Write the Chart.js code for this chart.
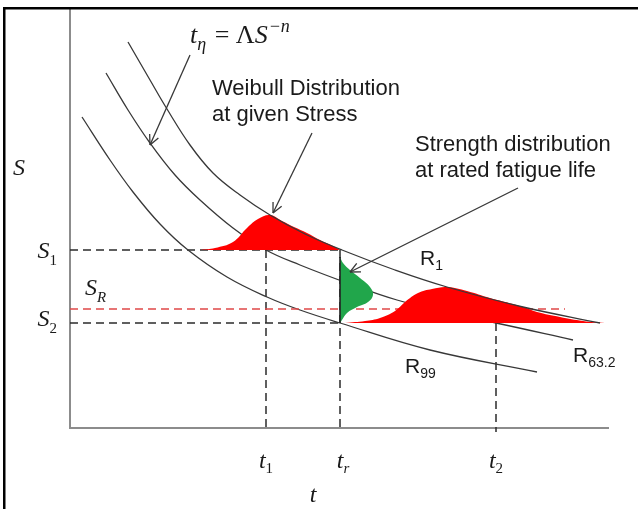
<!DOCTYPE html>
<html>
<head>
<meta charset="utf-8">
<script src="https://cdn.jsdelivr.net/npm/chart.js@4.4.1/dist/chart.umd.min.js"></script>
<style>
  html, body { margin: 0; padding: 0; background: #fff; }
  canvas { display: block; }
</style>
</head>
<body>
<canvas id="chart" width="638" height="509"></canvas>
<script>
// stress levels and times (chart units, schematic)
const S1 = 178, SR = 119, S2 = 105;
const t1 = 196, tr = 270, t2 = 426;

// S-N curves t = A*S^-n for three reliability levels
const curveR1 = [[58,386],[80,348],[97,319],[120,283],[143,255],[170,233],[200,213],[235,194],[272,178],[325,158],[377,141],[453,121],[530,105]];
const curveR632 = [[36,355],[58,318],[80,285],[105,253],[130,228],[163,200],[196,178],[230,163],[280,144],[327,128],[380,114],[426,105],[503,88]];
const curveR99 = [[12,311],[40,268],[63,236],[90,204],[118,178],[157,151],[197,131],[230,118],[270,105],[360,78],[467,56]];

// distributions
const weibullS1 = [[130,178],[145,180],[163,186],[177,200],[188,209],[200,213],[212,207],[224,201],[237,195],[250,188],[263,182],[270,178]];
const weibullS2 = [[275,105],[295,107],[310,110],[325,117],[335,126],[348,135],[362,139],[377,141],[397,137],[420,130],[443,124],[453,121],[467,116],[490,111],[513,107],[535,105]];
const strengthTr = [[270,171],[273,165],[280,158],[290,150],[300,141],[303,133],[298,126],[287,121],[277,115],[272,108],[270,105]];

// arrows: from -> to
const arrowFormula = [[120,373],[80,283]];
const arrowWeibull = [[242,295],[203,215]];
const arrowStrength = [[448,240],[280,156]];

const pts = arr => arr.map(p => ({x: p[0], y: p[1]}));

function line(data, color, width, extra) {
  return Object.assign({
    data: pts(data), borderColor: color, borderWidth: width,
    showLine: true, pointRadius: 0, fill: false, tension: 0
  }, extra || {});
}

const dark = '#383838';
const dash = [8, 5];

const datasets = [
  // first = drawn on top
  line(arrowFormula, dark, 1.3, {arrow: true}),
  line(arrowWeibull, dark, 1.3, {arrow: true}),
  line(arrowStrength, dark, 1.3, {arrow: true}),
  line(curveR1, dark, 1.3, {tension: 0.4}),
  line([[tr, 171], [tr, S2]], '#222', 1.6),
  line(strengthTr, 'rgba(0,0,0,0)', 0, {fill: 'shape', backgroundColor: '#21a64b', tension: 0.4}),
  line(weibullS1, 'rgba(0,0,0,0)', 0, {fill: 'shape', backgroundColor: '#ff0000', tension: 0.4}),
  line(weibullS2, 'rgba(0,0,0,0)', 0, {fill: 'shape', backgroundColor: '#ff0000', tension: 0.4}),
  line([[0, SR], [495, SR]], '#e04848', 1.3, {borderDash: dash}),
  line(curveR632, dark, 1.3, {tension: 0.4}),
  line(curveR99, dark, 1.3, {tension: 0.4}),
  line([[0, S1], [270, S1]], '#2b2b2b', 1.5, {borderDash: dash}),
  line([[0, S2], [270, S2]], '#2b2b2b', 1.5, {borderDash: dash}),
  line([[t1, S1], [t1, -4]], '#2b2b2b', 1.5, {borderDash: dash, clip: false}),
  line([[tr, S1], [tr, -4]], '#2b2b2b', 1.5, {borderDash: dash, clip: false}),
  line([[t2, S2], [t2, -4]], '#2b2b2b', 1.5, {borderDash: dash, clip: false})
];

const serif = 'italic 24px "Liberation Serif"';
const serifBig = 'italic 26px "Liberation Serif"';
const serifUp = '26px "Liberation Serif"';
const small = '15px "Liberation Serif"';
const smallIt = 'italic 15px "Liberation Serif"';
const smallBig = 'italic 18px "Liberation Serif"';
const sans = '22px "Liberation Sans"';
const sansR = '21px "Liberation Sans"';
const sansSub = '14px "Liberation Sans"';

function drawParts(ctx, x, y, parts, align) {
  let w = 0;
  parts.forEach(p => { ctx.font = p.font; w += ctx.measureText(p.text).width + (p.gap || 0); });
  let cx = align === 'center' ? x - w / 2 : align === 'right' ? x - w : x;
  parts.forEach(p => {
    ctx.font = p.font;
    ctx.fillText(p.text, cx, y + (p.dy || 0));
    cx += ctx.measureText(p.text).width + (p.gap || 0);
  });
}

const annotations = {
  id: 'annotations',
  afterDatasetsDraw(chart) {
    const ctx = chart.ctx;
    const px = v => chart.scales.x.getPixelForValue(v);
    const py = v => chart.scales.y.getPixelForValue(v);
    ctx.save();

    // arrow heads
    chart.data.datasets.forEach((ds, i) => {
      if (!ds.arrow) return;
      const el = chart.getDatasetMeta(i).data;
      const a = el[0], b = el[el.length - 1];
      const ang = Math.atan2(b.y - a.y, b.x - a.x);
      ctx.strokeStyle = ds.borderColor;
      ctx.lineWidth = ds.borderWidth;
      ctx.beginPath();
      [-0.45, 0.45].forEach(d => {
        ctx.moveTo(b.x, b.y);
        ctx.lineTo(b.x - 11 * Math.cos(ang + d), b.y - 11 * Math.sin(ang + d));
      });
      ctx.stroke();
    });

    ctx.fillStyle = '#1a1a1a';
    ctx.textBaseline = 'alphabetic';

    // axis titles and levels
    drawParts(ctx, px(-57), py(253), [{text: 'S', font: serif}], 'left');
    drawParts(ctx, px(243), py(-74), [{text: 't', font: serif}], 'center');
    drawParts(ctx, px(0) - 13, py(S1) + 8, [{text: 'S', font: serif}, {text: '1', font: small, dy: 7}], 'right');
    drawParts(ctx, px(0) - 13, py(S2) + 3, [{text: 'S', font: serif}, {text: '2', font: small, dy: 7}], 'right');
    drawParts(ctx, px(15), py(133), [{text: 'S', font: serif}, {text: 'R', font: smallIt, dy: 7}], 'left');
    drawParts(ctx, px(t1), py(-40), [{text: 't', font: serif}, {text: '1', font: small, dy: 5}], 'center');
    drawParts(ctx, px(tr) + 3, py(-40), [{text: 't', font: serif}, {text: 'r', font: smallIt, dy: 5}], 'center');
    drawParts(ctx, px(t2), py(-40), [{text: 't', font: serif}, {text: '2', font: small, dy: 5}], 'center');

    // formula
    drawParts(ctx, px(120), py(385), [
      {text: 't', font: serifBig},
      {text: 'η', font: smallBig, dy: 7, gap: 2},
      {text: ' = Λ', font: serifUp},
      {text: 'S', font: serifBig, gap: 1},
      {text: '−n', font: smallBig, dy: -11}
    ], 'left');

    // notes
    ctx.font = sans;
    ctx.fillText('Weibull Distribution', px(142), py(333));
    ctx.fillText('at given Stress', px(142), py(307));
    ctx.fillText('Strength distribution', px(345), py(277));
    ctx.fillText('at rated fatigue life', px(345), py(251));

    // curve labels
    drawParts(ctx, px(350), py(163), [{text: 'R', font: sansR}, {text: '1', font: sansSub, dy: 5}], 'left');
    drawParts(ctx, px(503), py(66), [{text: 'R', font: sansR}, {text: '63.2', font: sansSub, dy: 5}], 'left');
    drawParts(ctx, px(335), py(55), [{text: 'R', font: sansR}, {text: '99', font: sansSub, dy: 5}], 'left');

    ctx.restore();
  },
  afterDraw(chart) {
    const ctx = chart.ctx;
    ctx.save();
    ctx.fillStyle = '#000';
    ctx.fillRect(3, 7, 635, 2.5);
    ctx.fillRect(3, 7, 2.5, 502);
    ctx.restore();
  }
};

new Chart(document.getElementById('chart').getContext('2d'), {
  type: 'scatter',
  data: { datasets: datasets },
  options: {
    responsive: false,
    animation: false,
    layout: { padding: { left: 70, right: 30, top: 10, bottom: 81 } },
    plugins: { legend: { display: false }, tooltip: { enabled: false } },
    scales: {
      x: {
        type: 'linear', min: 0, max: 538,
        grid: { display: false, drawTicks: false },
        ticks: { display: false },
        border: { display: true, color: '#8c8c8c', width: 2 }
      },
      y: {
        type: 'linear', min: 0, max: 418,
        grid: { display: false, drawTicks: false },
        ticks: { display: false },
        border: { display: true, color: '#8c8c8c', width: 2 }
      }
    }
  },
  plugins: [annotations]
});
</script>
</body>
</html>
